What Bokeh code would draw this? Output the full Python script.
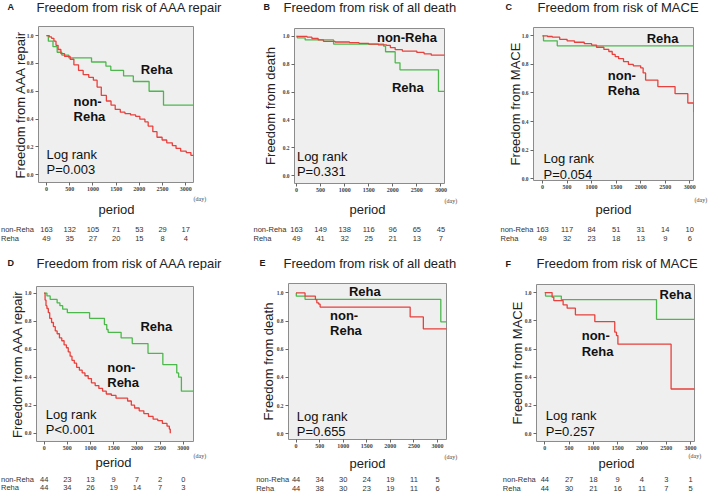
import math
from bokeh.plotting import figure
from bokeh.models import Label, FixedTicker, Range1d, PrintfTickFormatter
from bokeh.core.properties import value
from bokeh.layouts import row, column
from bokeh.embed import file_html
from bokeh.resources import INLINE

# ---------------- data ----------------
x_ticks = [0, 500, 1000, 1500, 2000, 2500, 3000]
y_ticks = [0.0, 0.2, 0.4, 0.6, 0.8, 1.0]
group_names = ["non-Reha", "Reha"]

# A: AAA repair (all)
A_reha_t = [0, 40, 140, 230, 330, 480, 970, 1280, 1385, 1660, 1870, 2210, 2520, 3250]
A_reha_s = [1.0, 0.96, 0.92, 0.88, 0.86, 0.84, 0.81, 0.78, 0.75, 0.71, 0.67, 0.60, 0.50, 0.50]
A_non_t = [0, 60, 110, 160, 205, 250, 310, 390, 510, 590, 690, 790, 910, 1010, 1090, 1180, 1290,
           1390, 1480, 1590, 1690, 1810, 1920, 2010, 2120, 2190, 2290, 2380, 2490, 2590, 2710,
           2790, 2890, 3010, 3110, 3250]
A_non_s = [1.0, 0.99, 0.98, 0.96, 0.93, 0.90, 0.87, 0.85, 0.83, 0.79, 0.75, 0.72, 0.70, 0.68, 0.63,
           0.57, 0.53, 0.50, 0.47, 0.45, 0.44, 0.43, 0.42, 0.40, 0.38, 0.35, 0.31, 0.27, 0.25, 0.23,
           0.21, 0.19, 0.17, 0.16, 0.14, 0.12]
A_risk_non = [163, 132, 105, 71, 53, 29, 17]
A_risk_reha = [49, 35, 27, 20, 15, 8, 4]

# B: all death (all)
B_reha_t = [0, 15, 180, 770, 1810, 1850, 2050, 2150, 2950, 3250]
B_reha_s = [1.0, 0.99, 0.975, 0.945, 0.93, 0.89, 0.81, 0.76, 0.605, 0.605]
B_non_t = [0, 220, 320, 450, 560, 800, 1100, 1300, 1500, 1700, 1870, 1950, 2050, 2200, 2500, 2650, 2800, 3250]
B_non_s = [1.0, 0.995, 0.985, 0.975, 0.965, 0.96, 0.955, 0.95, 0.945, 0.94, 0.935, 0.92, 0.905,
           0.895, 0.885, 0.875, 0.865, 0.865]
B_risk_non = [163, 149, 138, 116, 96, 65, 45]
B_risk_reha = [49, 41, 32, 25, 21, 13, 7]

# C: MACE (all)
C_reha_t = [0, 20, 300, 3250]
C_reha_s = [1.0, 0.965, 0.93, 0.93]
C_non_t = [0, 100, 200, 350, 500, 650, 850, 1000, 1100, 1250, 1350, 1420, 1480, 1550, 1650, 1750,
           1850, 2000, 2050, 2100, 2350, 2700, 2960, 3080, 3250]
C_non_s = [1.0, 0.995, 0.99, 0.975, 0.965, 0.955, 0.945, 0.935, 0.92, 0.905, 0.89, 0.87, 0.855, 0.84,
           0.82, 0.80, 0.79, 0.775, 0.74, 0.69, 0.645, 0.595, 0.53, 0.47, 0.47]
C_risk_non = [163, 117, 84, 51, 31, 14, 10]
C_risk_reha = [49, 32, 23, 18, 13, 9, 6]

# D: AAA repair (matched)
D_reha_t = [0, 60, 130, 280, 340, 400, 500, 980, 1300, 1350, 1380, 1660, 1900, 2240, 2560, 2860, 2900, 2960, 3300]
D_reha_s = [1.0, 0.98, 0.955, 0.93, 0.91, 0.885, 0.86, 0.82, 0.775, 0.74, 0.72, 0.68, 0.64, 0.57,
            0.49, 0.43, 0.40, 0.30, 0.30]
D_non_t = [0, 20, 40, 60, 90, 120, 160, 200, 240, 280, 330, 380, 430, 480, 520, 560, 600, 650, 700,
           760, 820, 880, 950, 1020, 1100, 1180, 1260, 1340, 1450, 1550, 1800, 1880, 1950, 2050,
           2150, 2250, 2350, 2450, 2550, 2650, 2700, 2720]
D_non_s = [1.0, 0.95, 0.91, 0.89, 0.86, 0.82, 0.79, 0.76, 0.73, 0.71, 0.68, 0.66, 0.63, 0.61, 0.58,
           0.55, 0.52, 0.50, 0.47, 0.45, 0.43, 0.41, 0.39, 0.36, 0.34, 0.32, 0.30, 0.28, 0.27, 0.25,
           0.23, 0.20, 0.18, 0.16, 0.14, 0.12, 0.10, 0.09, 0.07, 0.05, 0.03, 0.0]
D_risk_non = [44, 23, 13, 9, 7, 2, 0]
D_risk_reha = [44, 34, 26, 19, 14, 7, 3]

# E: all death (matched)
E_reha_t = [0, 5, 190, 3070, 3300]
E_reha_s = [1.0, 0.977, 0.955, 0.795, 0.795]
E_non_t = [0, 190, 410, 440, 480, 510, 2420, 2700, 3300]
E_non_s = [1.0, 0.977, 0.953, 0.93, 0.92, 0.9, 0.83, 0.745, 0.745]
E_risk_non = [44, 34, 30, 24, 19, 11, 5]
E_risk_reha = [44, 38, 30, 23, 19, 11, 6]

# F: MACE (matched)
F_reha_t = [0, 15, 340, 2300, 3300]
F_reha_s = [1.0, 0.975, 0.95, 0.81, 0.81]
F_non_t = [0, 150, 185, 377, 460, 630, 1030, 1440, 1475, 1505, 2600, 3300]
F_non_s = [1.0, 0.967, 0.943, 0.913, 0.889, 0.842, 0.794, 0.719, 0.695, 0.634, 0.317, 0.317]
F_risk_non = [44, 27, 18, 9, 4, 3, 1]
F_risk_reha = [44, 30, 21, 16, 11, 7, 5]

# ---------------- style / layout ----------------
RED = "#e8403c"
GREEN = "#4cb84c"
FONT = "Liberation Sans"
COLS = [(0, 238), (238, 236), (474, 235)]
ROWS = [dict(h0=0, m0=20, f0=194, end=246), dict(h0=246, m0=270, f0=452, end=492)]

panels = [
    dict(col=0, row=0, letter="A", title="Freedom from risk of AAA repair", ylabel="Freedom from AAA repair",
         frame=(38, 193, 26, 182), xr=(-172, 3166), yr=(-0.055, 1.065), ylab_standoff=-4,
         non=(A_non_t, A_non_s), reha=(A_reha_t, A_reha_s), risk=(A_risk_non, A_risk_reha), p="P=0.003",
         letter_pos=(7, 6.5), title_pos=(36, 6.5), day_pos=(193, 198),
         period_pos=(116, 209), rows_y=(229, 238), rows_x=0.5,
         reha_lab=(2031, 0.759), non_lab=(582, 0.524, 0.416), non_oneline=False, lr=(0, 0.144, 0.036)),
    dict(col=1, row=0, letter="B", title="Freedom from risk of all death", ylabel="Freedom from death",
         frame=(294, 444, 28, 183), xr=(-42, 3075), yr=(-0.057, 1.057), ylab_standoff=2,
         non=(B_non_t, B_non_s), reha=(B_reha_t, B_reha_s), risk=(B_risk_non, B_risk_reha), p="P=0.331",
         letter_pos=(263, 6.5), title_pos=(283, 6.5), day_pos=(444, 200),
         period_pos=(367, 209), rows_y=(229, 238), rows_x=253,
         reha_lab=(1982, 0.632), non_lab=(1671, 0.993, None), non_oneline=True, lr=(8, 0.138, 0.029)),
    dict(col=2, row=0, letter="C", title="Freedom from risk of MACE", ylabel="Freedom from MACE",
         frame=(533, 693, 27, 180), xr=(-184, 3076), yr=(-0.012, 1.058), ylab_standoff=-4,
         non=(C_non_t, C_non_s), reha=(C_reha_t, C_reha_s), risk=(C_risk_non, C_risk_reha), p="P=0.054",
         letter_pos=(505, 6.5), title_pos=(537, 6.5), day_pos=(694, 199),
         period_pos=(613, 209), rows_y=(229, 238), rows_x=500,
         reha_lab=(2121, 0.979), non_lab=(1329, 0.721, 0.616), non_oneline=False, lr=(20, 0.145, 0.03)),
    dict(col=0, row=1, letter="D", title="Freedom from risk of AAA repair", ylabel="Freedom from AAA repair",
         frame=(36, 193, 286, 441), xr=(-165, 3221), yr=(-0.059, 1.047), ylab_standoff=-3,
         non=(D_non_t, D_non_s), reha=(D_reha_t, D_reha_s), risk=(D_risk_non, D_risk_reha), p="P<0.001",
         letter_pos=(7, 262.5), title_pos=(36, 262.5), day_pos=(193, 455),
         period_pos=(113, 461.7), rows_y=(478.7, 486.7), rows_x=0.5,
         reha_lab=(2076, 0.76), non_lab=(1361, 0.47, 0.363), non_oneline=False, lr=(36, 0.133, 0.026)),
    dict(col=1, row=1, letter="E", title="Freedom from risk of all death", ylabel="Freedom from death",
         frame=(288, 446, 283, 439), xr=(-161, 3191), yr=(-0.04, 1.067), ylab_standoff=-2,
         non=(E_non_t, E_non_s), reha=(E_reha_t, E_reha_s), risk=(E_risk_non, E_risk_reha), p="P=0.655",
         letter_pos=(259, 262.5), title_pos=(283, 262.5), day_pos=(444, 456.5),
         period_pos=(367, 462.5), rows_y=(478.7, 487.5), rows_x=255.7,
         reha_lab=(1122, 1.013), non_lab=(720, 0.841, 0.73), non_oneline=False, lr=(15, 0.124, 0.016)),
    dict(col=2, row=1, letter="F", title="Freedom from risk of MACE", ylabel="Freedom from MACE",
         frame=(536, 694, 284, 441), xr=(-171, 3082), yr=(-0.055, 1.057), ylab_standoff=-3,
         non=(F_non_t, F_non_s), reha=(F_reha_t, F_reha_s), risk=(F_risk_non, F_risk_reha), p="P=0.257",
         letter_pos=(505, 263), title_pos=(536, 263), day_pos=(688, 455),
         period_pos=(616, 462.5), rows_y=(479.3, 487.5), rows_x=502.3,
         reha_lab=(2363, 0.984), non_lab=(760, 0.699, 0.584), non_oneline=False, lr=(21, 0.126, 0.018)),
]


def blank_fig(w, h, xr, yr):
    f = figure(width=w, height=h, x_range=xr, y_range=yr, output_backend="svg",
               toolbar_location=None, x_axis_type=None, y_axis_type=None, frame_align=False,
               min_border=0, min_border_left=0, min_border_right=0,
               min_border_top=0, min_border_bottom=0)
    f.outline_line_color = None
    f.background_fill_color = "white"
    f.border_fill_color = "white"
    f.grid.visible = False
    return f


def txt(f, xs, ys, texts, size, bold=False, align="left", color="#1a1a1a", font=FONT):
    f.text(x=xs, y=ys, text=texts, text_font=value(font), text_font_size=value(f"{size}px"),
           text_font_style="bold" if bold else "normal", text_align=align,
           text_baseline="middle", text_color=color)


def make_cell(c):
    cx0, cw = COLS[c["col"]]
    R_ = ROWS[c["row"]]
    L, R, T, B = c["frame"]
    x0, x1 = c["xr"]
    y0, y1 = c["yr"]

    # ---- header: panel letter + title ----
    hh = R_["m0"] - R_["h0"]
    head = blank_fig(cw, hh, Range1d(0, cw), Range1d(hh, 0))
    txt(head, [c["letter_pos"][0] - cx0], [c["letter_pos"][1] - R_["h0"]], [c["letter"]], 9, bold=True)
    txt(head, [c["title_pos"][0] - cx0], [c["title_pos"][1] - R_["h0"]], [c["title"]], 13, color="#222222")

    # ---- main plot ----
    mh = R_["f0"] - R_["m0"]
    p = figure(width=cw, height=mh, x_range=Range1d(x0, x1), y_range=Range1d(y0, y1),
               output_backend="svg", toolbar_location=None, frame_align=False,
               min_border_left=L - cx0, min_border_right=cx0 + cw - R,
               min_border_top=T - R_["m0"], min_border_bottom=R_["f0"] - B)
    p.background_fill_color = "#efefef"
    p.border_fill_color = "white"
    p.outline_line_color = "#8c8c8c"
    p.outline_line_width = 1
    p.grid.visible = False
    p.xaxis.ticker = FixedTicker(ticks=x_ticks)
    p.yaxis.ticker = FixedTicker(ticks=y_ticks)
    p.yaxis.formatter = PrintfTickFormatter(format="%.1f")
    for ax in (p.xaxis, p.yaxis):
        ax.axis_line_color = None
        ax.major_tick_in = 0
        ax.major_tick_out = 3
        ax.major_tick_line_color = "#666666"
        ax.minor_tick_line_color = None
        ax.major_label_text_font = "Liberation Serif"
        ax.major_label_text_font_style = "bold"
        ax.major_label_text_color = "#444444"
    p.xaxis.major_label_text_font_size = "6px"
    p.yaxis.major_label_text_font_size = "5.5px"
    p.xaxis.major_label_standoff = 1
    p.yaxis.major_label_standoff = 2
    p.yaxis.axis_label = c["ylabel"]
    p.yaxis.axis_label_text_font = FONT
    p.yaxis.axis_label_text_font_size = "13px"
    p.yaxis.axis_label_text_font_style = "normal"
    p.yaxis.axis_label_text_color = "#222222"
    p.yaxis.axis_label_standoff = c["ylab_standoff"]

    p.step(c["reha"][0], c["reha"][1], mode="after", line_color=GREEN, line_width=1.3)
    p.step(c["non"][0], c["non"][1], mode="after", line_color=RED, line_width=1.3)

    def lab_d(text, x, y, size, bold=False):
        p.add_layout(Label(x=x, y=y, text=text, text_font=FONT, text_font_size=f"{size}px",
                           text_font_style="bold" if bold else "normal", text_align="left",
                           text_baseline="middle", text_color="#111111"))

    lab_d("Reha", c["reha_lab"][0], c["reha_lab"][1], 13, bold=True)
    nx, ny1, ny2 = c["non_lab"]
    if c["non_oneline"]:
        lab_d("non-Reha", nx, ny1, 13, bold=True)
    else:
        lab_d("non-", nx, ny1, 13, bold=True)
        lab_d("Reha", nx, ny2, 13, bold=True)
    lx, ly1, ly2 = c["lr"]
    lab_d("Log rank", lx, ly1, 13)
    lab_d(c["p"], lx, ly2, 13)

    # ---- footer: (day), period, numbers at risk (x shares the plot's data scale) ----
    fh = R_["end"] - R_["f0"]
    k = (x1 - x0) / (R - L)
    fx0 = x0 - (L - cx0) * k
    fx1 = x1 + (cx0 + cw - R) * k
    foot = blank_fig(cw, fh, Range1d(fx0, fx1), Range1d(fh, 0))

    def fx(px):
        return fx0 + (px - cx0) * k

    def fy(py):
        return py - R_["f0"]

    txt(foot, [fx(c["day_pos"][0])], [fy(c["day_pos"][1])], ["(day)"], 6, color="#444444",
        font="Liberation Serif")
    txt(foot, [fx(c["period_pos"][0])], [fy(c["period_pos"][1])], ["period"], 13, align="center",
        color="#222222")
    for name, vals, ry in zip(group_names, c["risk"], c["rows_y"]):
        txt(foot, [fx(c["rows_x"])], [fy(ry)], [name], 7.5, color="#333333")
        txt(foot, x_ticks, [fy(ry)] * len(x_ticks), [str(v) for v in vals], 7.5, align="center",
            color="#333333")

    return column(head, p, foot, spacing=0)


cells = [make_cell(c) for c in panels]
layout = column(row(*cells[:3], spacing=0), row(*cells[3:], spacing=0), spacing=0)
open("out.html", "w").write(file_html(layout, INLINE))
